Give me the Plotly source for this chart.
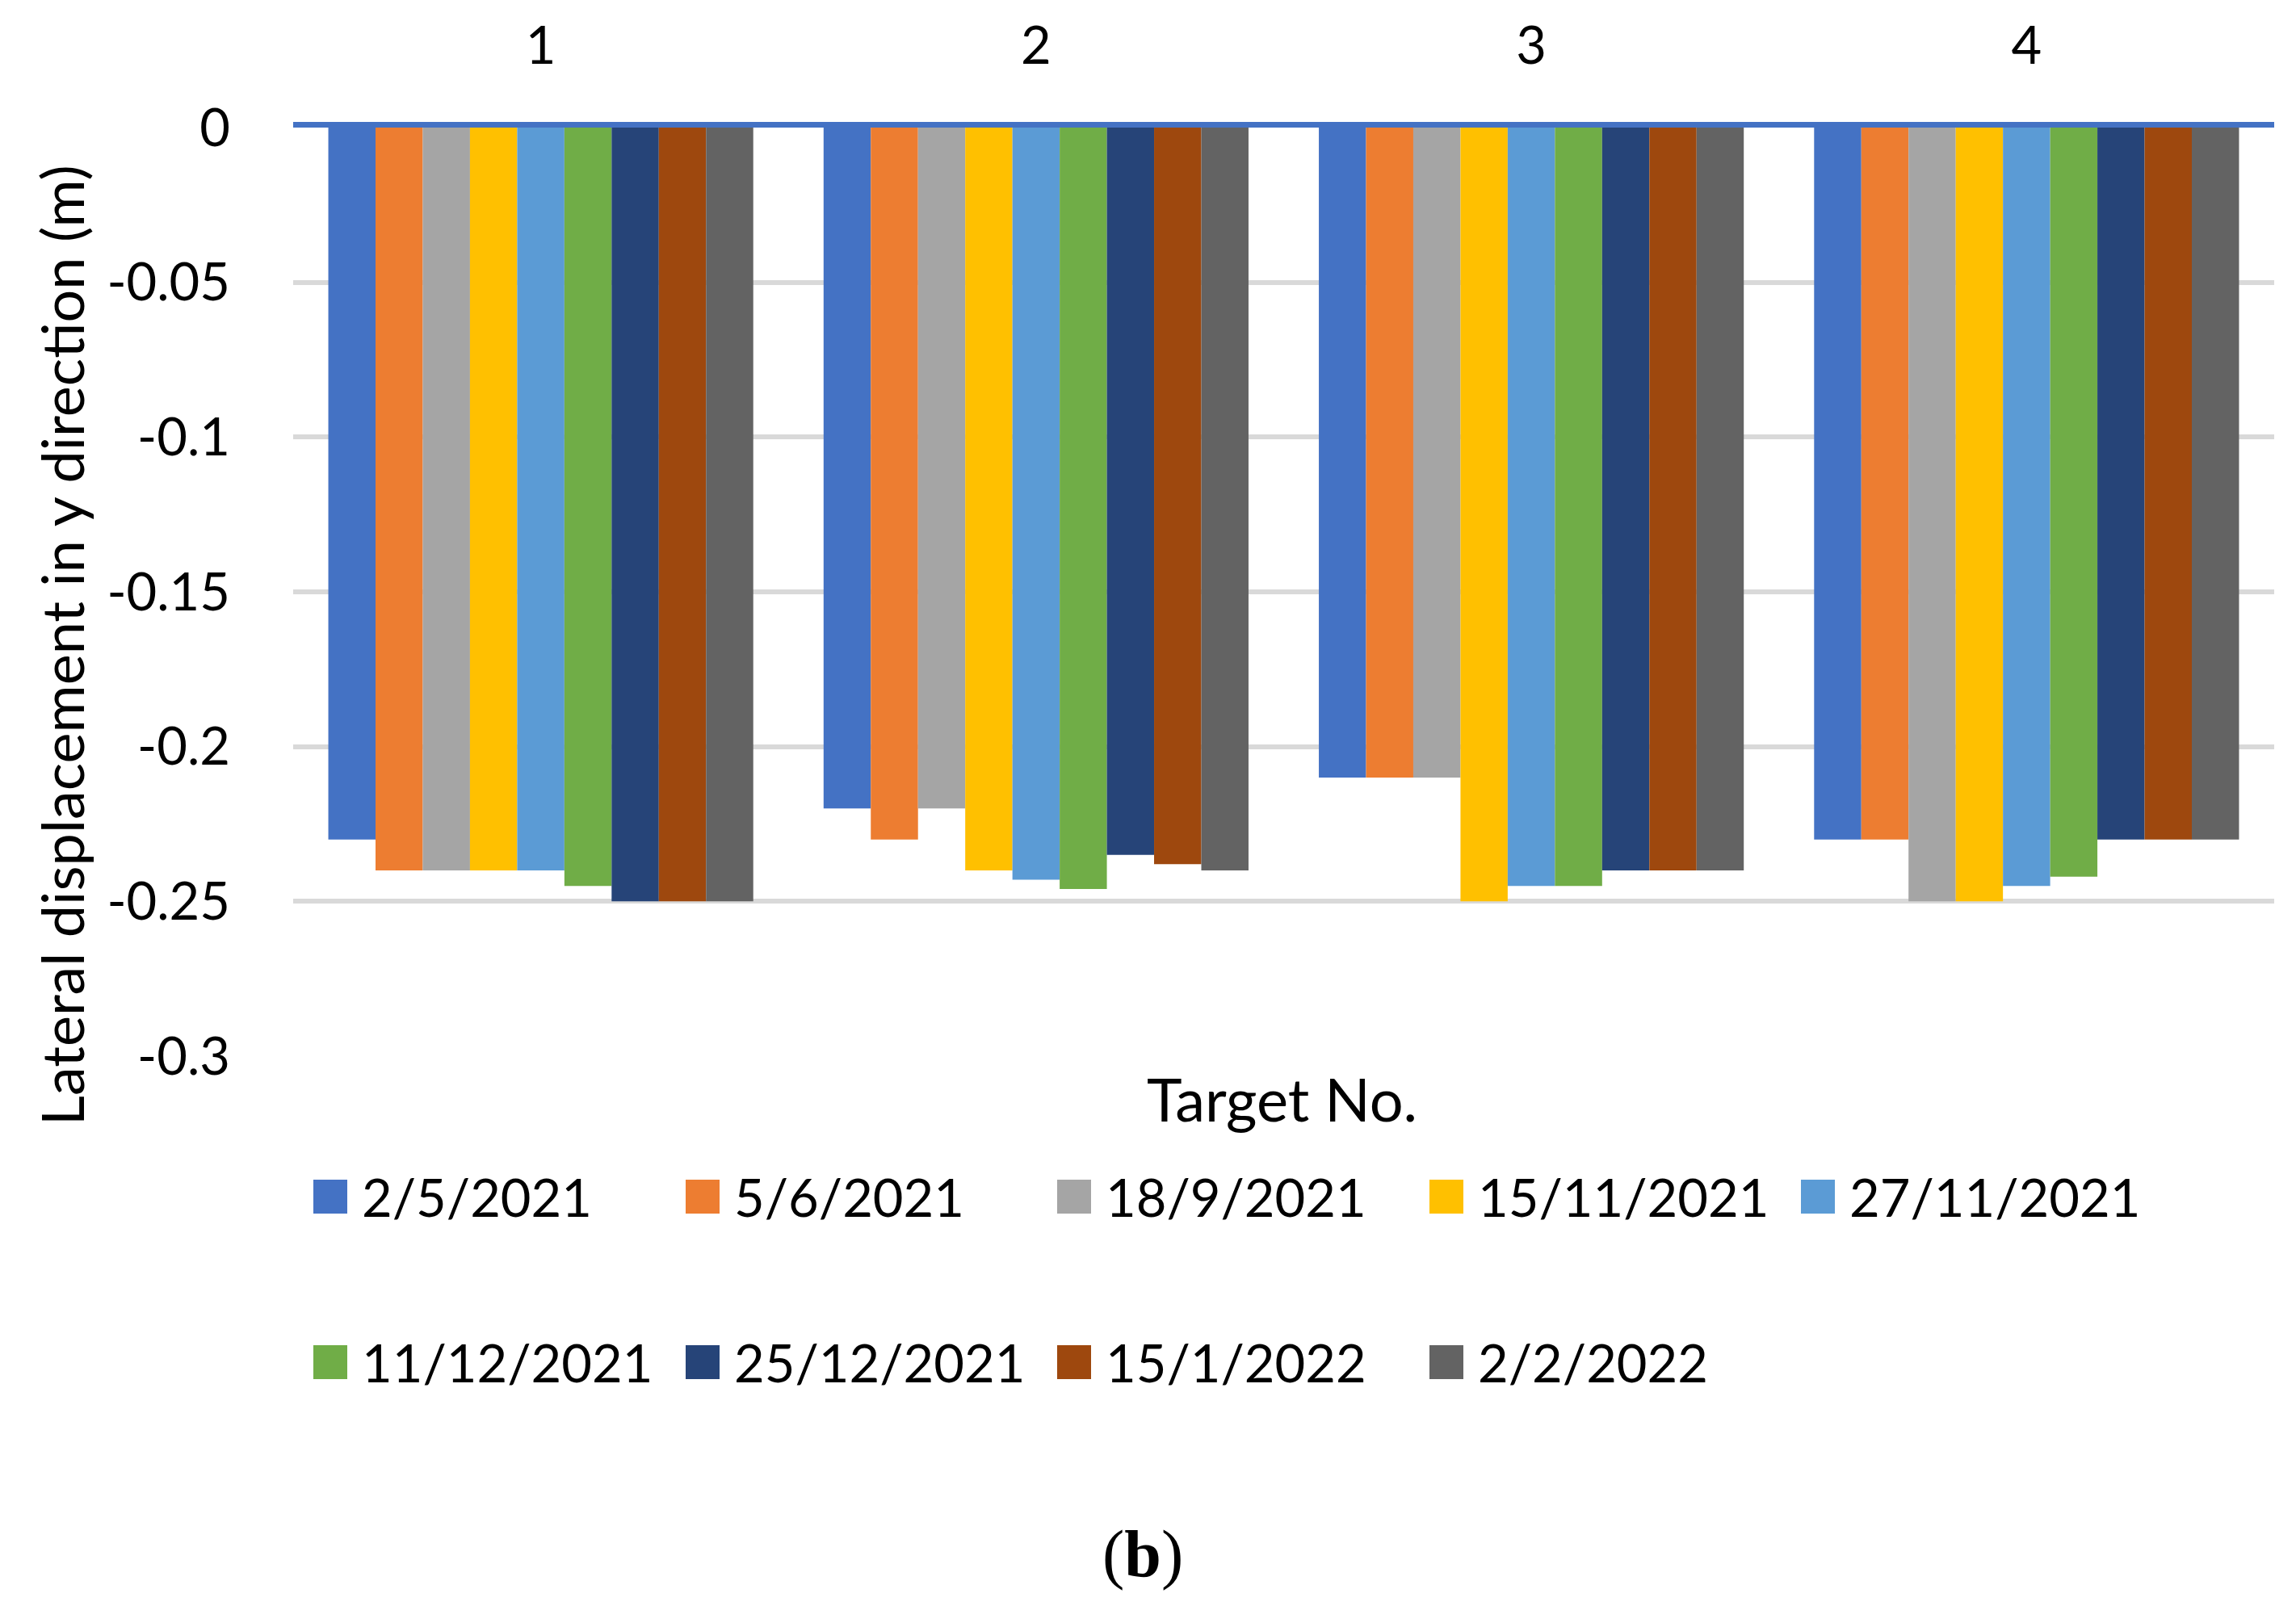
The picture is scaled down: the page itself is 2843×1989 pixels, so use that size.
import plotly.graph_objects as go

# ---------------- data ----------------
targets = ["1", "2", "3", "4"]
series_names = ["2/5/2021", "5/6/2021", "18/9/2021", "15/11/2021", "27/11/2021",
                "11/12/2021", "25/12/2021", "15/1/2022", "2/2/2022"]
colors = ["#4472C4", "#ED7D31", "#A5A5A5", "#FFC000", "#5B9BD5",
          "#70AD47", "#264478", "#9E480E", "#636363"]

s_2_5_2021 = [-0.230, -0.220, -0.210, -0.230]
s_5_6_2021 = [-0.240, -0.230, -0.210, -0.230]
s_18_9_2021 = [-0.240, -0.220, -0.210, -0.250]
s_15_11_2021 = [-0.240, -0.240, -0.250, -0.250]
s_27_11_2021 = [-0.240, -0.243, -0.245, -0.245]
s_11_12_2021 = [-0.245, -0.246, -0.245, -0.242]
s_25_12_2021 = [-0.250, -0.235, -0.240, -0.230]
s_15_1_2022 = [-0.250, -0.238, -0.240, -0.230]
s_2_2_2022 = [-0.250, -0.240, -0.240, -0.230]
series_values = [s_2_5_2021, s_5_6_2021, s_18_9_2021, s_15_11_2021, s_27_11_2021,
                 s_11_12_2021, s_25_12_2021, s_15_1_2022, s_2_2_2022]

y_tickvals = [0, -0.05, -0.1, -0.15, -0.2, -0.25, -0.3]
y_ticktext = ["0", "-0.05", "-0.1", "-0.15", "-0.2", "-0.25", "-0.3"]

# ---------------- layout geometry (pixels) ----------------
W, H = 2843, 1989
ML, MR, MT, MB = 355, 35, 150, 689
PW = W - ML - MR
PH = H - MT - MB
FONT = "Lato, 'Open Sans', sans-serif"


def px_x(px):
    return (px - ML) / PW


def px_y(py):
    return (H - MB - py) / PH


fig = go.Figure()
for name, col, vals in zip(series_names, colors, series_values):
    fig.add_trace(go.Bar(x=targets, y=vals, name=name, marker_color=col,
                         marker_line_width=0, showlegend=False))

# manual legend (Excel-style large square swatches, 5 + 4 items)
col_left = [380, 841, 1301, 1762, 2222]
row_center = [1474, 1679]
sw = 42
shapes = []
annotations = []
for i, (name, col) in enumerate(zip(series_names, colors)):
    r, c = divmod(i, 5)
    x0 = col_left[c]
    yc = row_center[r]
    shapes.append(dict(type="rect", xref="paper", yref="paper",
                       x0=px_x(x0), x1=px_x(x0 + sw),
                       y0=px_y(yc + sw / 2), y1=px_y(yc - sw / 2),
                       fillcolor=col, line=dict(width=0)))
    annotations.append(dict(text=name, xref="paper", yref="paper",
                            x=px_x(x0 + 58), y=px_y(yc), xanchor="left", yanchor="middle",
                            showarrow=False, font=dict(family=FONT, size=65, color="black")))

# axis titles
annotations.append(dict(text="Target No.", xref="paper", yref="paper",
                        x=px_x(1579), y=px_y(1352), xanchor="center", yanchor="middle",
                        showarrow=False, font=dict(family=FONT, size=74, color="black")))
annotations.append(dict(text="Lateral displacement in y direction (m)", xref="paper", yref="paper",
                        x=px_x(68), y=px_y(791), xanchor="center", yanchor="middle",
                        textangle=-90, showarrow=False,
                        font=dict(family=FONT, size=72, color="black")))
annotations.append(dict(text="(<b>b</b>)", xref="paper", yref="paper",
                        x=px_x(1407), y=px_y(1917), xanchor="center", yanchor="middle",
                        showarrow=False, font=dict(family="'Liberation Serif', serif", size=82, color="black")))

fig.update_layout(
    width=W, height=H,
    margin=dict(l=ML, r=MR, t=MT, b=MB, autoexpand=False),
    paper_bgcolor="white", plot_bgcolor="white",
    barmode="group", bargap=0.142, bargroupgap=0,
    font=dict(family=FONT, color="black"),
    shapes=shapes, annotations=annotations,
    xaxis=dict(type="category", side="top", showline=True, linecolor="#4472C4", linewidth=7,
               ticks="", showgrid=False, zeroline=False, ticklabelstandoff=46,
               tickfont=dict(family=FONT, size=65, color="black"), automargin=False),
    yaxis=dict(range=[-0.3, 0], tickvals=y_tickvals, ticktext=y_ticktext,
               showgrid=True, gridcolor="#D9D9D9", gridwidth=6, zeroline=False,
               showline=False, ticks="", ticklabelstandoff=77,
               tickfont=dict(family=FONT, size=65, color="black"), automargin=False),
)

fig.write_html("out.html")
